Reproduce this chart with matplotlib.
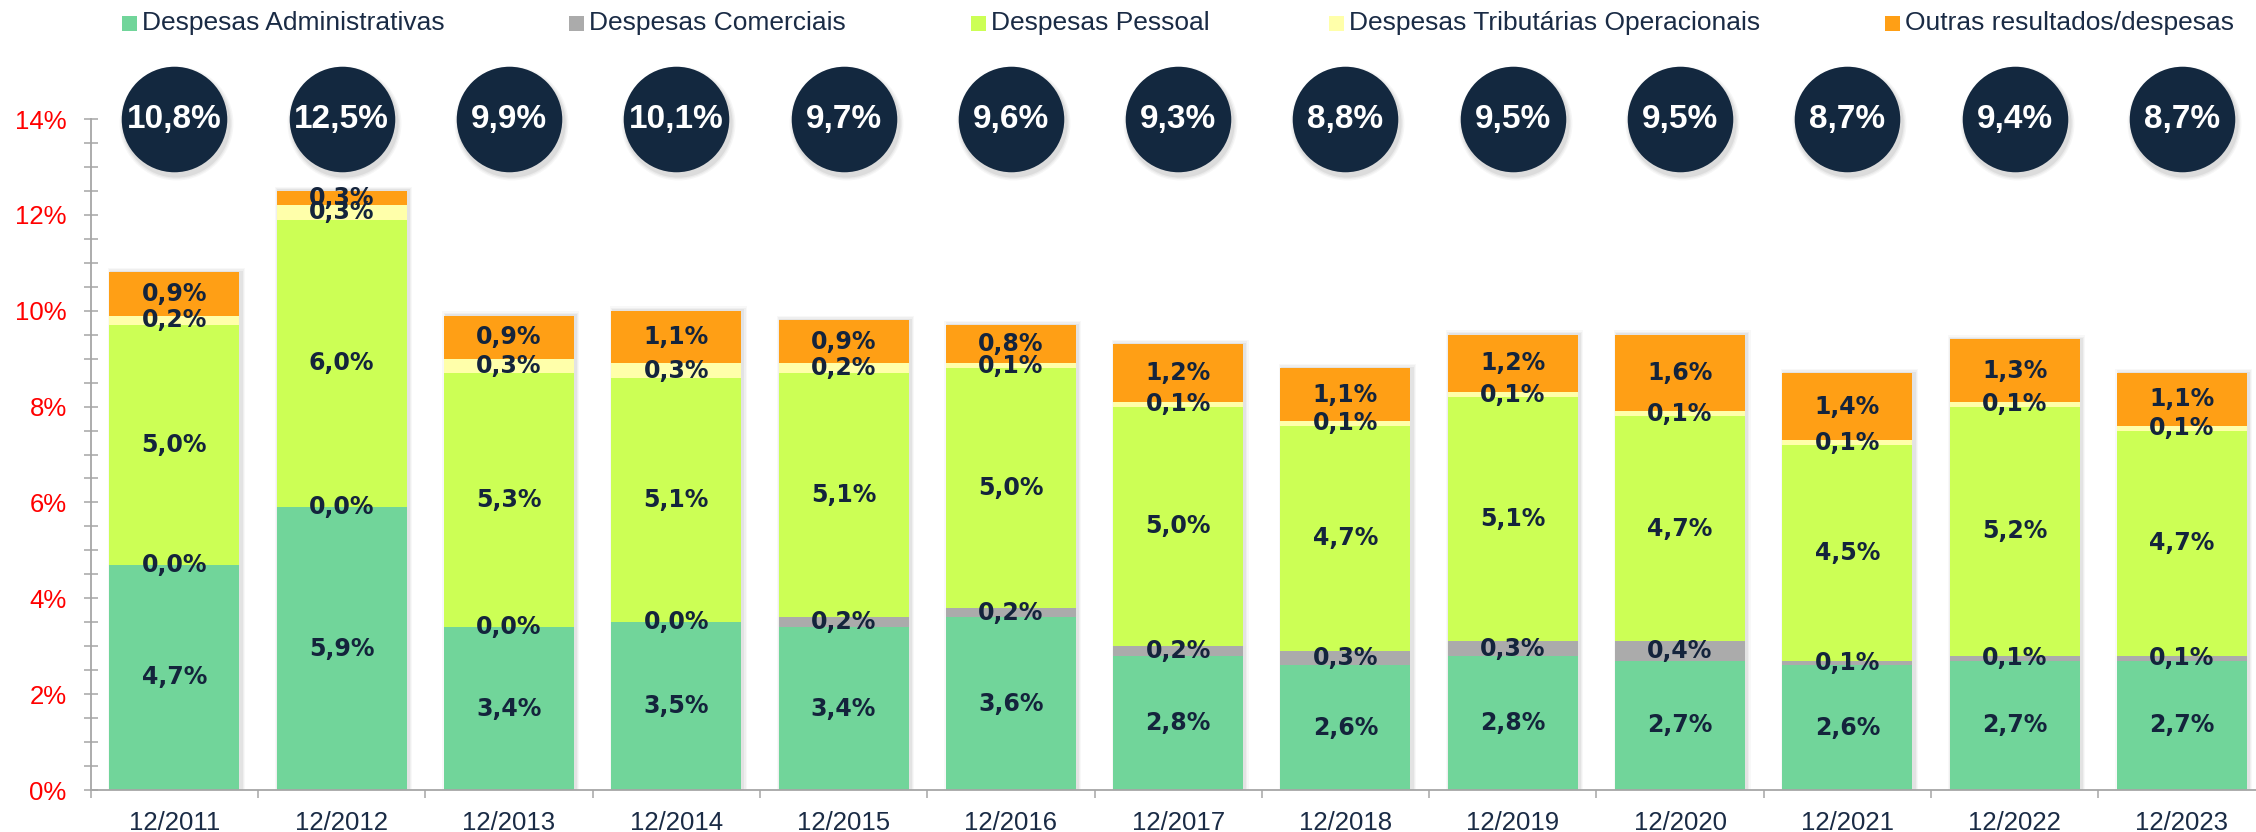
import numpy as np
import matplotlib
matplotlib.use("Agg")
import matplotlib.pyplot as plt
import matplotlib.transforms as mtransforms
from matplotlib.patches import Rectangle
from matplotlib.ticker import MultipleLocator, FixedLocator

# data (% of revenue)
periodos = ["12/2011", "12/2012", "12/2013", "12/2014", "12/2015", "12/2016", "12/2017",
            "12/2018", "12/2019", "12/2020", "12/2021", "12/2022", "12/2023"]
administrativas = [4.7, 5.9, 3.4, 3.5, 3.4, 3.6, 2.8, 2.6, 2.8, 2.7, 2.6, 2.7, 2.7]
comerciais = [0.0, 0.0, 0.0, 0.0, 0.2, 0.2, 0.2, 0.3, 0.3, 0.4, 0.1, 0.1, 0.1]
pessoal = [5.0, 6.0, 5.3, 5.1, 5.1, 5.0, 5.0, 4.7, 5.1, 4.7, 4.5, 5.2, 4.7]
tributarias = [0.2, 0.3, 0.3, 0.3, 0.2, 0.1, 0.1, 0.1, 0.1, 0.1, 0.1, 0.1, 0.1]
outras = [0.9, 0.3, 0.9, 1.1, 0.9, 0.8, 1.2, 1.1, 1.2, 1.6, 1.4, 1.3, 1.1]
totais = [10.8, 12.5, 9.9, 10.1, 9.7, 9.6, 9.3, 8.8, 9.5, 9.5, 8.7, 9.4, 8.7]

series = [
    ("Despesas Administrativas", administrativas, "#71D59A"),
    ("Despesas Comerciais", comerciais, "#ABABAB"),
    ("Despesas Pessoal", pessoal, "#CCFF55"),
    ("Despesas Tributárias Operacionais", tributarias, "#FFFFAA"),
    ("Outras resultados/despesas", outras, "#FF9F15"),
]

navy = "#13283F"
txt_navy = "#1A2B45"
W, H = 2256, 832

fig = plt.figure(figsize=(W / 100, H / 100), dpi=100)
ax = fig.add_axes([90.7 / W, 42 / H, 1 - 90.7 / W, (790 - 119) / H])

x = np.arange(len(periodos))
bw = 0.777

# soft shadow behind the bars
sum_tot = np.sum([s[1] for s in series], axis=0)
for k, a in enumerate([0.10, 0.07, 0.05]):
    ax.bar(x + 0.012, sum_tot + 0.03 * (k + 1), width=bw + 0.014 * (k + 1),
           color="#808080", alpha=a, linewidth=0, zorder=1)

bottom = np.zeros(len(periodos))
for nome, vals, cor in series:
    vals = np.array(vals)
    ax.bar(x, vals, width=bw, bottom=bottom, color=cor, linewidth=0, zorder=2)
    for xi, b, v in zip(x, bottom, vals):
        ax.text(xi, b + v / 2, f"{v:.1f}".replace(".", ",") + "%", ha="center", va="center",
                fontsize=17, fontweight="bold", family="DejaVu Sans", color="#14243C", zorder=5)
    bottom += vals

ax.set_xlim(-0.5, (W - 90.7) / 167.3 - 0.5)
ax.set_ylim(0, 14)

# circles with totals
yc = np.full(len(x), 14.0)
for k, a in enumerate([0.10, 0.07, 0.05]):
    sh = mtransforms.offset_copy(ax.transData, fig=fig, x=2, y=-4, units="dots")
    ax.scatter(x, yc, s=(76 + 2 * (k + 1)) ** 2, color="#606060", alpha=a, linewidths=0,
               transform=sh, clip_on=False, zorder=6)
ax.scatter(x, yc, s=76 ** 2, color=navy, linewidths=0, clip_on=False, zorder=7)
for xi, t in zip(x, totais):
    ax.text(xi, 14, f"{t:.1f}".replace(".", ",") + "%", ha="center", va="center",
            fontsize=24, fontweight="bold", family="Liberation Sans", color="white",
            zorder=8, clip_on=False)

# axes styling
for s in ["top", "right"]:
    ax.spines[s].set_visible(False)
for s in ["left", "bottom"]:
    ax.spines[s].set_color("#A6A6A6")
    ax.spines[s].set_linewidth(1.3)

ax.yaxis.set_major_locator(MultipleLocator(2))
ax.yaxis.set_minor_locator(MultipleLocator(0.5))
ax.set_yticklabels([f"{int(v)}%" for v in ax.get_yticks()])
ax.tick_params(axis="y", which="both", direction="inout", length=10, width=1.1,
               color="#A6A6A6", pad=12.3)
ax.tick_params(axis="y", which="major", labelsize=18.5, labelcolor="#FF0000")
for lb in ax.get_yticklabels():
    lb.set_family("Liberation Sans")

ax.set_xticks(x)
ax.set_xticklabels(periodos)
ax.xaxis.set_minor_locator(FixedLocator(np.arange(-0.5, len(x), 1.0)))
ax.tick_params(axis="x", which="major", length=0, pad=15, labelsize=18.5, labelcolor=txt_navy)
ax.tick_params(axis="x", which="minor", direction="out", length=6, width=1.1, color="#A6A6A6")
for lb in ax.get_xticklabels():
    lb.set_family("Liberation Sans")

# legend along the top
leg_x = [122, 569, 971, 1329, 1885]
for (nome, vals, cor), lx in zip(series, leg_x):
    fig.patches.append(Rectangle((lx / W, 1 - 31 / H), 15 / W, 15 / H, transform=fig.transFigure,
                                 color=cor, linewidth=0))
    fig.text((lx + 20) / W, 1 - 23 / H, nome, ha="left", va="center", fontsize=19,
             family="Liberation Sans", color=txt_navy)

fig.savefig("out.png", dpi=100)
